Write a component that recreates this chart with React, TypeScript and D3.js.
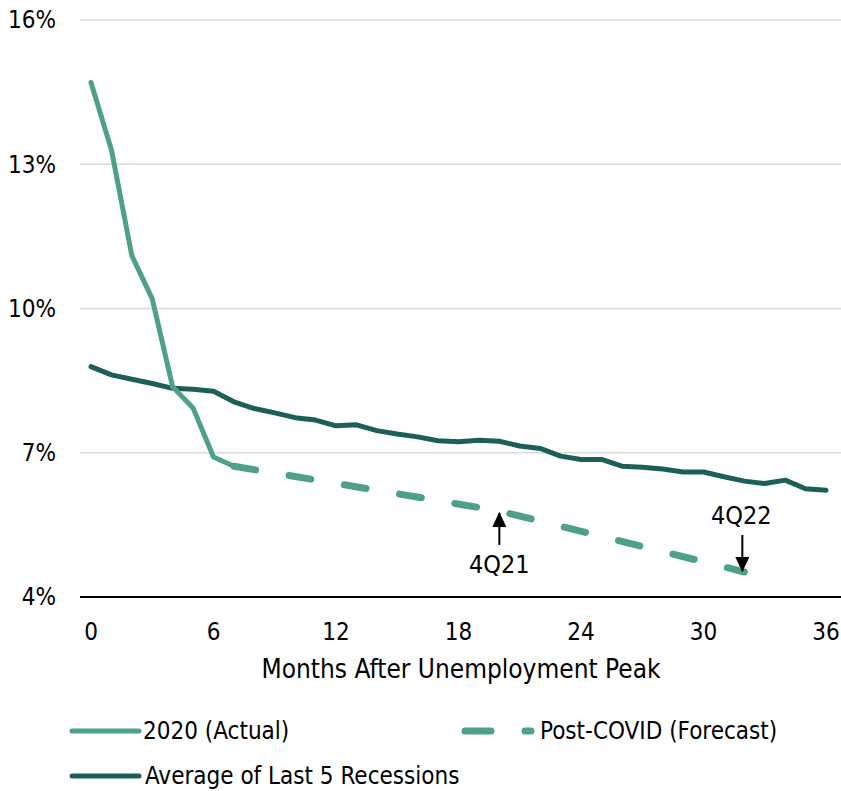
import React from "react";
import * as d3 from "d3";

// Unemployment rate (%) by months after the unemployment peak
const actualMonths = [0, 1, 2, 3, 4, 5, 6, 7];
const actualValues = [14.7, 13.3, 11.1, 10.2, 8.37, 7.93, 6.91, 6.72];

const forecastMonths = [7, 20, 32];
const forecastValues = [6.72, 5.79, 4.52];

const averageValues = [
  8.79, 8.62, 8.53, 8.44, 8.34, 8.32, 8.28, 8.06, 7.92, 7.83, 7.73, 7.68, 7.56,
  7.58, 7.46, 7.39, 7.33, 7.25, 7.23, 7.26, 7.24, 7.14, 7.09, 6.93, 6.86, 6.86,
  6.72, 6.7, 6.66, 6.6, 6.6, 6.5, 6.41, 6.36, 6.43, 6.25, 6.22,
];

const yTicks = [4, 7, 10, 13, 16];
const xTicks = [0, 6, 12, 18, 24, 30, 36];

const annotations = [
  { label: "4Q21", month: 20, value: 5.79, side: "below" },
  { label: "4Q22", month: 32, value: 4.52, side: "above" },
];

const W = 841;
const H = 791;
const FONT = "'DejaVu Sans Condensed', 'DejaVu Sans', sans-serif";
const FS = 24;
const LIGHT = "#4FA088";
const DARK = "#1C5F58";

export default function App() {
  const x = d3.scaleLinear().domain([0, 36]).range([91, 826]);
  const y = d3.scaleLinear().domain([4, 16]).range([597, 20]);

  const line = d3
    .line<[number, number]>()
    .x((d) => x(d[0]))
    .y((d) => y(d[1]))
    .curve(d3.curveLinear);

  const actualPath = line(actualMonths.map((m, i) => [m, actualValues[i]]))!;
  const forecastPath = line(forecastMonths.map((m, i) => [m, forecastValues[i]]))!;
  const averagePath = line(averageValues.map((v, i) => [i, v]))!;

  return (
    <svg
      width={W}
      height={H}
      style={{ position: "absolute", left: 0, top: 0, background: "#fff" }}
      fontFamily={FONT}
    >
      <defs>
        <marker
          id="arrowhead"
          viewBox="0 0 15 14"
          refX="14"
          refY="7"
          markerWidth="15"
          markerHeight="14"
          markerUnits="userSpaceOnUse"
          orient="auto"
        >
          <path d="M0,0 L15,7 L0,14 z" fill="#000" />
        </marker>
      </defs>

      {/* grid lines */}
      {yTicks
        .filter((t) => t !== 4)
        .map((t) => (
          <line key={t} x1={80} x2={W} y1={y(t)} y2={y(t)} stroke="#D9D9D9" strokeWidth={1.5} />
        ))}
      <line x1={80} x2={W} y1={y(4)} y2={y(4)} stroke="#000" strokeWidth={2} />

      {/* y tick labels */}
      {yTicks.map((t) => (
        <text key={t} x={56} y={y(t)} dy="0.35em" textAnchor="end" fontSize={FS} fill="#000">
          {t}%
        </text>
      ))}

      {/* x tick labels */}
      {xTicks.map((t) => (
        <text key={t} x={x(t)} y={632} dy="0.35em" textAnchor="middle" fontSize={FS} fill="#000">
          {t}
        </text>
      ))}
      <text x={461} y={669} dy="0.35em" textAnchor="middle" fontSize={26} fill="#000">
        Months After Unemployment Peak
      </text>

      {/* series */}
      <path d={averagePath} fill="none" stroke={DARK} strokeWidth={5} strokeLinejoin="round" strokeLinecap="round" />
      <path d={actualPath} fill="none" stroke={LIGHT} strokeWidth={5} strokeLinejoin="round" strokeLinecap="round" />
      <path
        d={forecastPath}
        fill="none"
        stroke={LIGHT}
        strokeWidth={7}
        strokeDasharray="22,34"
        strokeLinecap="round"
        strokeLinejoin="round"
      />

      {/* annotations */}
      {annotations.map((a) => {
        const px = x(a.month);
        const py = y(a.value);
        if (a.side === "below") {
          return (
            <g key={a.label}>
              <line x1={px} x2={px} y1={py + 34} y2={py + 2} stroke="#000" strokeWidth={2} markerEnd="url(#arrowhead)" />
              <text x={px} y={py + 53} dy="0.35em" textAnchor="middle" fontSize={25} fill="#000">
                {a.label}
              </text>
            </g>
          );
        }
        return (
          <g key={a.label}>
            <line x1={px - 2} x2={px - 2} y1={py - 37} y2={py - 1} stroke="#000" strokeWidth={2} markerEnd="url(#arrowhead)" />
            <text x={px - 3} y={py - 57} dy="0.35em" textAnchor="middle" fontSize={25} fill="#000">
              {a.label}
            </text>
          </g>
        );
      })}

      {/* legend */}
      <g>
        <line x1={72} x2={139} y1={731} y2={731} stroke={LIGHT} strokeWidth={5} strokeLinecap="round" />
        <text x={143} y={731} dy="0.35em" fontSize={FS} fill="#000">
          2020 (Actual)
        </text>
        <line
          x1={465}
          x2={531}
          y1={731}
          y2={731}
          stroke={LIGHT}
          strokeWidth={7}
          strokeDasharray="26,34"
          strokeLinecap="round"
        />
        <text x={540} y={731} dy="0.35em" fontSize={FS} fill="#000">
          Post-COVID (Forecast)
        </text>
        <line x1={72} x2={139} y1={776} y2={776} stroke={DARK} strokeWidth={5} strokeLinecap="round" />
        <text x={145} y={776} dy="0.35em" fontSize={FS} fill="#000">
          Average of Last 5 Recessions
        </text>
      </g>
    </svg>
  );
}
